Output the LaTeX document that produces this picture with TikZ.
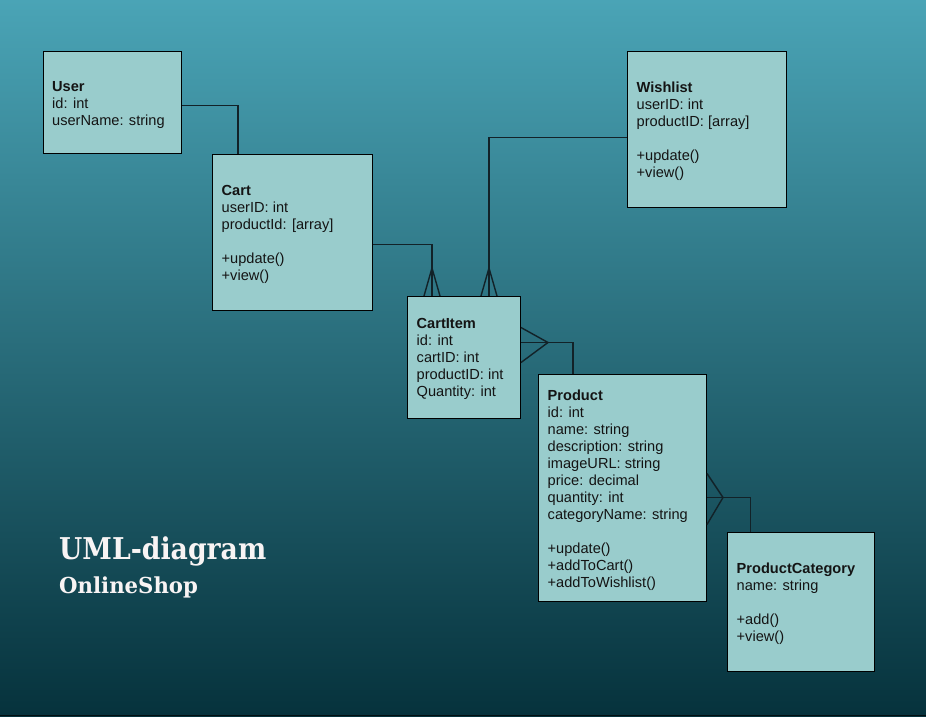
\documentclass[tikz,border=0pt]{standalone}
\usepackage{fontspec}
\usepackage{graphicx}
\setmainfont{Liberation Sans}
\newfontfamily\titlefont{DejaVu Serif}
\usetikzlibrary{calc}
\definecolor{bgtop}{RGB}{74,164,182}
\definecolor{bgbot}{RGB}{6,50,60}
\definecolor{boxfill}{RGB}{153,204,204}
\definecolor{linkcol}{RGB}{18,34,40}
\definecolor{titlecol}{RGB}{248,244,244}
\tikzset{
  classbox/.style={draw=black, line width=1pt, fill=boxfill, anchor=north west, inner sep=0pt},
  classtext/.style={anchor=north west, align=left, inner sep=0pt, text=black!92,
    font=\fontsize{14.6}{17}\selectfont, yshift=11.9pt},
  link/.style={draw=linkcol, line width=1.4pt},
  titletext/.style={anchor=base west, inner sep=0pt, text=titlecol},
}
\begin{document}
\begin{tikzpicture}[x=1pt,y=-1pt]
\useasboundingbox (0,0) rectangle (926,716);
\shade[top color=bgtop, bottom color=bgbot] (0,0) rectangle (926,716);
\fill[black!70!bgbot] (0,714.5) rectangle (926,716);

% boxes
\node[classbox, minimum width=138, minimum height=102] (user) at (43,51) {};
\node[classbox, minimum width=160, minimum height=156] (cart) at (212,154) {};
\node[classbox, minimum width=159, minimum height=156] (wish) at (627,51) {};
\node[classbox, minimum width=113, minimum height=122] (ci) at (407,296) {};
\node[classbox, minimum width=168, minimum height=227] (prod) at (538,374) {};
\node[classbox, minimum width=147, minimum height=139] (pc) at (727,532) {};

% texts (positions = baseline of first line)
\node[classtext] (usert) at (52,91) {\strut\textbf{User}\\id: int\\userName: string};
\node[classtext] (cartt) at (221.5,195) {\strut\textbf{Cart}\\userID: int\\productId: [array]\\[17pt]+update()\\+view()};
\node[classtext] (wisht) at (636.5,92) {\strut\textbf{Wishlist}\\userID: int\\productID: [array]\\[17pt]+update()\\+view()};
\node[classtext] (cit) at (416.5,328) {\strut\textbf{CartItem}\\id: int\\cartID: int\\productID: int\\Quantity: int};
\node[classtext] (prodt) at (547.5,400) {\strut\textbf{Product}\\id: int\\name: string\\description: string\\imageURL: string\\price: decimal\\quantity: int\\categoryName: string\\[17pt]+update()\\+addToCart()\\+addToWishlist()};
\node[classtext] (pct) at (736.5,573) {\strut\textbf{ProductCategory}\\name: string\\[17pt]+add()\\+view()};

% title
\node[titletext, font=\titlefont\bfseries\fontsize{30}{30}\selectfont] (title) at (59,559) {\scalebox{0.89}[1]{UML-diagram}};
\node[titletext, font=\titlefont\bfseries\fontsize{22}{22}\selectfont] (subtitle) at (59,593) {\scalebox{0.965}[1]{OnlineShop}};

% connectors
% User -- Cart
\draw[link] ([yshift=-3pt]user.east) -| ([xshift=26pt]cart.north west);
% Cart -- CartItem (many at CartItem)
\coordinate (ciA) at ([xshift=25pt]ci.north west);
\draw[link] ([yshift=-12pt]cart.east) -| (ciA);
\draw[link] ([xshift=-8pt]ciA) -- ($(ciA)+(0,-28)$) -- ([xshift=8pt]ciA);
% Wishlist -- CartItem (many at CartItem)
\coordinate (ciB) at ([xshift=82pt]ci.north west);
\draw[link] ([yshift=-8pt]wish.west) -| (ciB);
\draw[link] ([xshift=-8pt]ciB) -- ($(ciB)+(0,-28)$) -- ([xshift=8pt]ciB);
% CartItem -- Product (many at CartItem)
\coordinate (ciC) at ([yshift=15pt]ci.east);
\coordinate (prA) at ([xshift=35pt]prod.north west);
\draw[link] (ciC) -| (prA);
\draw[link] ([yshift=15pt]ciC) -- ($(ciC)+(27,0)$) -- ([yshift=-20pt]ciC);
% Product -- ProductCategory (many at Product)
\coordinate (prB) at ([yshift=-9.5pt]prod.east);
\coordinate (pcA) at ([xshift=23.5pt]pc.north west);
\draw[link] (prB) -| (pcA);
\draw[link] ([yshift=24pt]prB) -- ($(prB)+(16,0)$) -- ([yshift=-27pt]prB);
\end{tikzpicture}
\end{document}
